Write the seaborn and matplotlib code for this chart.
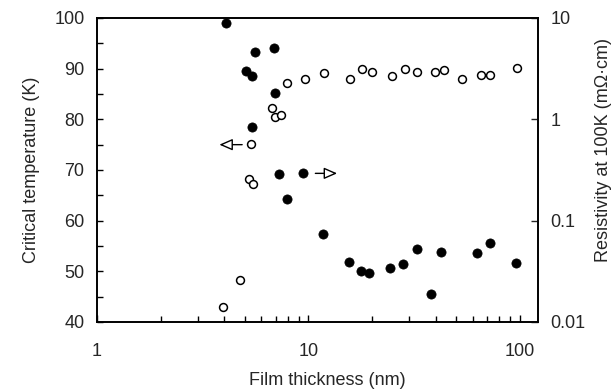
import numpy as np
import pandas as pd
import matplotlib
matplotlib.use("Agg")
import matplotlib.pyplot as plt
import seaborn as sns
from matplotlib.ticker import LogLocator, FixedLocator, NullLocator, NullFormatter

# ---- data ----
# critical temperature (open circles, left axis)
tc_thick = [3.93, 4.74, 5.25, 5.45, 5.33, 6.74, 6.95, 7.39, 7.88, 9.62, 11.8,
            15.7, 17.9, 19.9, 25.0, 28.6, 32.8, 39.6, 43.7, 53.3, 65.4, 72.7, 97.5]
tc_values = [43.0, 48.2, 68.2, 67.2, 75.1, 82.2, 80.4, 80.9, 87.1, 88.0, 89.1,
             88.0, 89.9, 89.3, 88.6, 89.9, 89.3, 89.3, 89.7, 87.9, 88.7, 88.7, 90.1]

# resistivity at 100K (filled circles, right axis)
rho_thick = [4.06, 5.05, 5.42, 5.58, 6.89, 6.95, 5.42, 7.28, 9.45, 7.88, 11.75,
             15.6, 17.7, 19.4, 24.3, 27.9, 32.5, 37.9, 42.3, 62.8, 72.1, 96.5]
rho_values = [8.87, 3.0, 2.70, 4.59, 5.02, 1.83, 0.847, 0.289, 0.293, 0.164, 0.0733,
              0.0388, 0.0321, 0.0302, 0.0339, 0.0374, 0.0522, 0.0188, 0.0488, 0.0483, 0.0598, 0.0385]

tc_df = pd.DataFrame({"thickness": tc_thick, "Tc": tc_values})
rho_df = pd.DataFrame({"thickness": rho_thick, "rho": rho_values})

sns.set_style("ticks")
plt.rcParams['font.family'] = ['Liberation Sans', 'DejaVu Sans']
fs = 13

fig = plt.figure(figsize=(6.16, 3.91), dpi=100)
ax = fig.add_axes([97 / 616, 1 - 322 / 391, 441 / 616, 304 / 391])
ax2 = ax.twinx()

sns.scatterplot(data=tc_df, x="thickness", y="Tc", ax=ax, s=32,
                facecolor="white", edgecolor="black", linewidth=1.1, zorder=3)
sns.scatterplot(data=rho_df, x="thickness", y="rho", ax=ax2, s=44,
                color="black", edgecolor="black", linewidth=0.5, zorder=3)

ax.set_xscale("log")
ax.set_xlim(1, 122)
ax.set_ylim(40, 100)
ax2.set_yscale("log")
ax2.set_ylim(0.01, 10)

ax.set_xticks([1, 10, 100])
ax.set_xticklabels(["1", "10", "100"])
ax.xaxis.set_minor_locator(LogLocator(base=10, subs=np.arange(2, 10)))
ax.xaxis.set_minor_formatter(NullFormatter())
ax.set_yticks(np.arange(40, 101, 10))
ax.yaxis.set_minor_locator(FixedLocator(np.arange(45, 100, 10)))
ax2.set_yticks([0.01, 0.1, 1, 10])
ax2.set_yticklabels(["0.01", "0.1", "1", "10"])
ax2.yaxis.set_minor_locator(NullLocator())

ax.tick_params(axis="both", which="both", direction="in", top=False, right=False,
               width=1.0, color="black", labelsize=fs)
ax.tick_params(axis="x", which="major", length=5, pad=15)
ax.tick_params(axis="x", which="minor", length=4)
ax.tick_params(axis="y", which="major", length=4, pad=9)
ax.tick_params(axis="y", which="minor", length=4)
ax2.tick_params(axis="y", which="major", direction="in", length=5, width=1.0,
                pad=9, labelsize=fs)

for a in (ax, ax2):
    for sp in a.spines.values():
        sp.set_visible(True)
        sp.set_linewidth(1.2)
        sp.set_color("black")

ax.set_xlabel("Film thickness (nm)", fontsize=fs)
ax.xaxis.set_label_coords(0.523, -0.165)
ax.set_ylabel("Critical temperature (K)", fontsize=fs)
ax.yaxis.set_label_coords(-0.13, 0.5)
ax2.set_ylabel("Resistivity at 100K (m\u03a9\u00b7cm)", fontsize=fs, rotation=90)
ax2.yaxis.set_label_coords(1.13, 0.565)

# arrows pointing to the axis of each series
ax.annotate("", xy=(3.68, 75), xytext=(5.01, 75),
            arrowprops=dict(arrowstyle="-|>,head_length=0.8,head_width=0.35",
                            fc="white", ec="black", lw=1.0))
ax2.annotate("", xy=(14.1, 0.293), xytext=(10.47, 0.293),
             arrowprops=dict(arrowstyle="-|>,head_length=0.8,head_width=0.35",
                             fc="white", ec="black", lw=1.0))

fig.savefig("out.png", dpi=100)
